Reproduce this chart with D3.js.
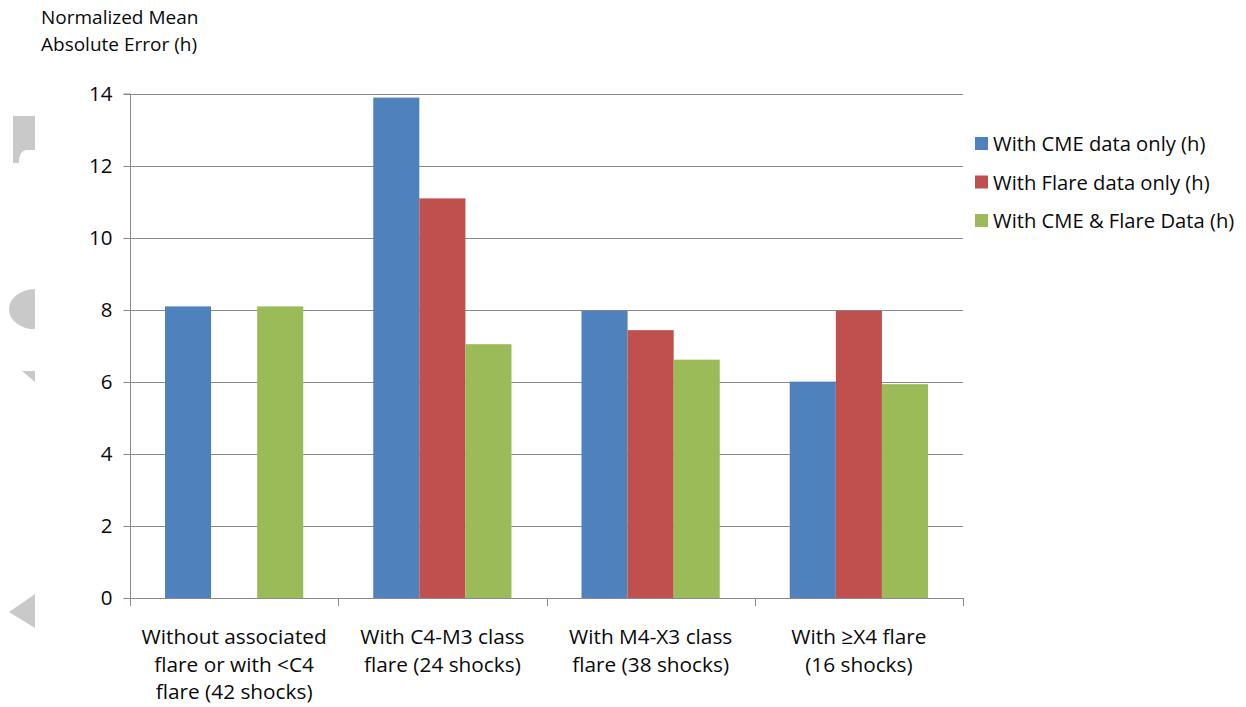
<!DOCTYPE html>
<html>
<head>
<meta charset="utf-8">
<script src="https://cdn.jsdelivr.net/npm/d3@7"></script>
<style>
  html, body { margin: 0; padding: 0; background: #fff; }
  svg { display: block; font-family: "Open Sans", Lato, sans-serif; }
</style>
</head>
<body>
<svg id="chart" width="1246" height="707"></svg>
<script>
// Flare-class groups (each label line is a separate entry)
const categories = ["g1", "g2", "g3", "g4"];
const categoryLabels = [
  ["Without associated", "flare or with <C4", "flare (42 shocks)"],
  ["With C4-M3 class", "flare (24 shocks)"],
  ["With M4-X3 class", "flare (38 shocks)"],
  ["With \u2265X4 flare", "(16 shocks)"]
];
const seriesNames = ["With CME data only (h)", "With Flare data only (h)", "With CME & Flare Data (h)"];
const seriesColors = ["#4F81BD", "#C0504D", "#9BBB59"];
// Normalized mean absolute error (h); null = no value for that group
const cmeOnly   = [8.1, 13.9, 7.98, 6.01];
const flareOnly = [null, 11.1, 7.44, 7.98];
const combined  = [8.1, 7.05, 6.62, 5.94];
const yTicks = [0, 2, 4, 6, 8, 10, 12, 14];

const svg = d3.select("#chart");
const plot = { left: 130, right: 963, top: 94, bottom: 598 };
const gridColor = "#8a8a8a";
const textColor = "#0a0a0a";

const y = d3.scaleLinear().domain([0, 14]).range([plot.bottom, plot.top]);
const x0 = d3.scaleBand().domain(categories).range([plot.left, plot.right]).padding(0);
const groupPad = 35;
const x1 = d3.scaleBand().domain(d3.range(seriesNames.length))
  .range([groupPad, x0.bandwidth() - groupPad]).padding(0);

// decorative grey fragments along the left edge
const deco = svg.append("g").attr("fill", "#c9c9c9");
deco.append("path").attr("d", "M13,116 H35 V150 H26 Q19,151 19,163 H13 Z");
deco.append("path").attr("d", "M35,289 A27,20 0 0 0 9,309 A27,20 0 0 0 30,329 H35 Z");
deco.append("path").attr("d", "M22,371 H35 V382 Z");
deco.append("path").attr("d", "M35,594 L9,612 L35,628 Z");

// horizontal gridlines
svg.append("g").selectAll("line").data(yTicks.filter(d => d > 0)).join("line")
  .attr("x1", plot.left).attr("x2", plot.right)
  .attr("y1", d => Math.round(y(d)) + 0.5).attr("y2", d => Math.round(y(d)) + 0.5)
  .attr("stroke", gridColor).attr("stroke-width", 1);

// bars
const series = [cmeOnly, flareOnly, combined];
const bars = [];
categories.forEach((c, ci) => {
  series.forEach((vals, si) => {
    if (vals[ci] != null) bars.push({ c, si, v: vals[ci] });
  });
});
svg.append("g").selectAll("rect").data(bars).join("rect")
  .attr("x", d => x0(d.c) + x1(d.si))
  .attr("width", x1.bandwidth())
  .attr("y", d => y(d.v))
  .attr("height", d => y(0) - y(d.v))
  .attr("fill", d => seriesColors[d.si]);

// y axis
const yAxis = svg.append("g")
  .attr("transform", `translate(${plot.left + 0.5},0)`)
  .call(d3.axisLeft(y).tickValues(yTicks).tickSize(7).tickPadding(11).tickFormat(d3.format("d")));
yAxis.select(".domain").attr("stroke", gridColor).attr("d", `M-7,${plot.top}H0V${plot.bottom}`);
yAxis.selectAll(".tick line").attr("stroke", gridColor);
yAxis.selectAll(".tick text").attr("font-size", 20.5).attr("fill", textColor)
  .attr("font-family", "'Open Sans', Lato, sans-serif");

// x axis line with ticks at group boundaries
const xAxis = svg.append("g");
xAxis.append("line")
  .attr("x1", plot.left).attr("x2", plot.right)
  .attr("y1", plot.bottom + 0.5).attr("y2", plot.bottom + 0.5)
  .attr("stroke", gridColor);
const bounds = categories.map(c => x0(c)).concat([x0(categories[categories.length - 1]) + x0.bandwidth()]);
xAxis.selectAll(".xt").data(bounds).join("line").attr("class", "xt")
  .attr("x1", d => Math.round(d) + 0.5).attr("x2", d => Math.round(d) + 0.5)
  .attr("y1", plot.bottom).attr("y2", plot.bottom + 8)
  .attr("stroke", gridColor);

// category labels
const lbl = svg.append("g").attr("font-size", 20.8).attr("fill", textColor).attr("text-anchor", "middle");
categories.forEach((c, ci) => {
  const cx = x0(c) + x0.bandwidth() / 2;
  categoryLabels[ci].forEach((line, li) => {
    lbl.append("text").attr("x", cx).attr("y", 644 + li * 27.7).text(line);
  });
});

// y axis title
const title = svg.append("g").attr("font-size", 19).attr("fill", textColor);
title.append("text").attr("x", 41).attr("y", 24).text("Normalized Mean");
title.append("text").attr("x", 41).attr("y", 51).text("Absolute Error (h)");

// legend
const legend = svg.append("g");
seriesNames.forEach((name, i) => {
  const ly = 144 + i * 38.5;
  legend.append("rect").attr("x", 975).attr("y", ly - 7).attr("width", 13).attr("height", 13)
    .attr("fill", seriesColors[i]);
  legend.append("text").attr("x", 993).attr("y", ly + 7).attr("font-size", 20.2)
    .attr("fill", textColor).text(name);
});
</script>
</body>
</html>
